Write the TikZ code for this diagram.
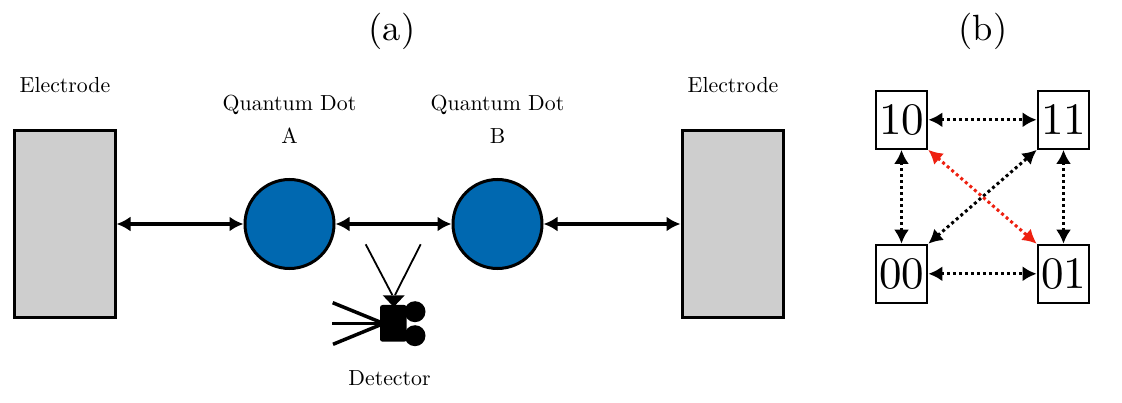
\documentclass[tikz,border=0pt]{standalone}
\usetikzlibrary{arrows.meta}
\definecolor{electrodegray}{RGB}{206,206,206}
\definecolor{dotblue}{RGB}{0,104,176}
\definecolor{redarrow}{RGB}{238,32,16}
\tikzset{
  electrodebox/.style={draw=black,line width=3pt,fill=electrodegray,minimum width=101pt,minimum height=187pt,inner sep=0pt},
  qdot/.style={circle,draw=black,line width=3pt,fill=dotblue,minimum size=89pt,inner sep=0pt},
  link/.style={line width=3.6pt,{Latex[length=14pt,width=15pt]}-{Latex[length=14pt,width=15pt]}},
  lab/.style={scale=2.18,inner sep=0pt},
  title/.style={scale=3.65,inner sep=0pt},
  state/.style={draw=black,line width=2.2pt,fill=white,minimum width=51.5pt,minimum height=58pt,inner sep=0pt},
  statetext/.style={scale=4.5,inner sep=0pt},
  trans/.style={line width=3pt,dash pattern=on 3pt off 3pt,{Latex[length=14pt,width=15pt]}-{Latex[length=14pt,width=15pt]}},
  beam/.style={line width=1.8pt},
  wire/.style={line width=3.5pt}
}
\begin{document}
\begin{tikzpicture}[x=1pt,y=-1pt]
\path[use as bounding box,fill=white] (0,0) rectangle (1122,403);
\node[title] (ta) at (392,31) {(a)};
\node[title] (tb) at (983,31) {(b)};
\node[lab] (el) at (65,85) {Electrode};
\node[lab] (er) at (733,85) {Electrode};
\node[lab] (qa) at (289.5,105) {Quantum Dot};
\node[lab] (qal) at (289.5,136) {A};
\node[lab] (qb) at (497.5,105) {Quantum Dot};
\node[lab] (qbl) at (497.5,136) {B};
\node[lab] (det) at (389.5,378) {Detector};
\node[electrodebox] (L) at (64.5,224) {};
\node[electrodebox] (R) at (732.5,224) {};
\node[qdot] (A) at (289.5,224) {};
\node[qdot] (B) at (497.5,224) {};
\draw[link] (A.west -| L.east) -- (A.west);
\draw[link] (A.east) -- (B.west);
\draw[link] (B.east) -- (B.east -| R.west);
% detector
\coordinate (bl) at (365.7,244.3);
\coordinate (br) at (420.7,244.3);
\coordinate (fl) at (392.3,295);
\coordinate (fr) at (395,295);
\coordinate (wa) at (332.7,302.7);
\coordinate (wb) at (332,323.3);
\coordinate (wc) at (333,344.3);
\coordinate (wt) at (380,322);
\coordinate (wm) at (380,323.3);
\coordinate (wu) at (380,325);
\draw[beam] (bl) -- (fl);
\draw[beam] (br) -- (fr);
\fill (382.7,295.3) -- (404.7,295.3) -- (393.7,307) -- cycle;
\fill[rounded corners=2.5pt] (380,305) rectangle (406.7,341.7);
\fill (415,311.7) circle (10.5pt);
\fill (415,335.7) circle (10.5pt);
\draw[wire] (wa) -- (wt);
\draw[wire] (wb) -- (wm);
\draw[wire] (wc) -- (wu);
% state diagram
\node[state] (s10) at (901.5,119.8) {};
\node[state] (s11) at (1063.5,119.8) {};
\node[state] (s00) at (901.5,273.8) {};
\node[state] (s01) at (1063.5,273.8) {};
\node[statetext] (t10) at (s10) {10};
\node[statetext] (t11) at (s11) {11};
\node[statetext] (t00) at (s00) {00};
\node[statetext] (t01) at (s01) {01};
\draw[trans] (s10.east) -- (s11.west);
\draw[trans] (s00.east) -- (s01.west);
\draw[trans] (s10.south) -- (s00.north);
\draw[trans] (s11.south) -- (s01.north);
\draw[trans] (s00.north east) -- (s11.south west);
\draw[trans,redarrow] (s10.south east) -- (s01.north west);
\end{tikzpicture}
\end{document}
